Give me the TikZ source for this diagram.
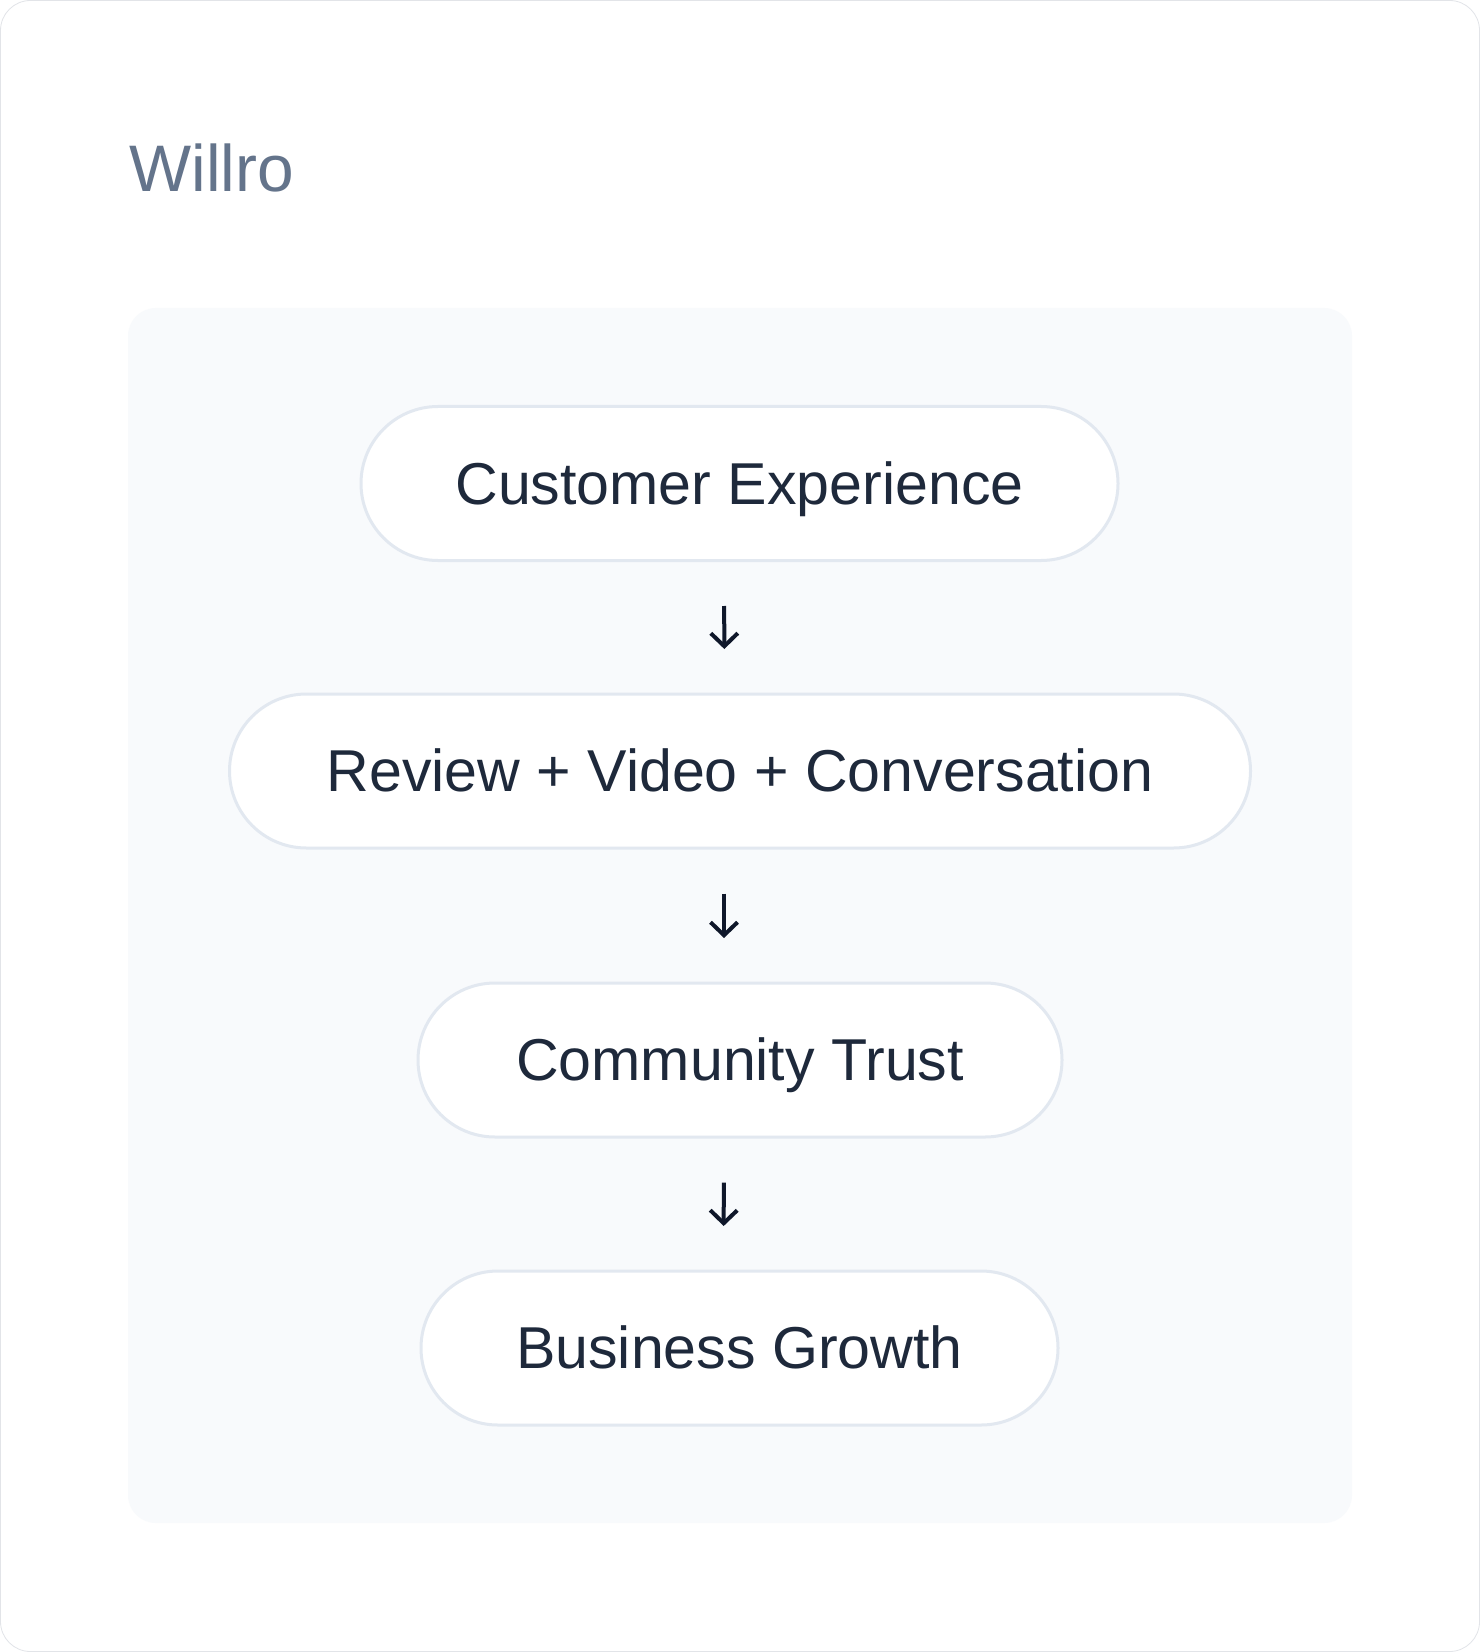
\documentclass[tikz,border=0pt]{standalone}
\usepackage{fontspec}
\setmainfont{Liberation Sans}
\usetikzlibrary{arrows.meta}
\definecolor{framegray}{HTML}{E2E4E8}
\definecolor{panelbg}{HTML}{F8FAFC}
\definecolor{pillborder}{HTML}{E2E8F0}
\definecolor{ink}{HTML}{1E293B}
\definecolor{arrowink}{HTML}{0F172A}
\definecolor{titlegray}{HTML}{64748B}
\begin{document}
\begin{tikzpicture}[x=0.5pt,y=-0.5pt,
  pill/.style={draw=pillborder, line width=1.5pt, fill=white, rounded corners=38.5pt,
    minimum height=77pt, inner sep=0pt, outer sep=0pt, text=ink,
    font=\fontsize{29.55pt}{35pt}\selectfont, text height=20.6pt, text depth=0pt},
  flow/.style={draw=arrowink, line width=2pt,
    -{Straight Barb[length=6.5pt,width=13.5pt]}}]
\useasboundingbox (0,0) rectangle (1480,1652);
\fill[white, rounded corners=15pt] (0,0) rectangle (1480,1652);
\draw[framegray, line width=0.4pt, rounded corners=15pt] (0.5,0.5) rectangle (1479.5,1651.5);
\fill[panelbg, rounded corners=14pt] (128,308) rectangle (1352,1523);
\node[anchor=base west, inner sep=0pt, text=titlegray, font=\fontsize{32.9pt}{40pt}\selectfont] (title) at (129,192) {Willro};
\node[pill, minimum width=378.5pt] (p1) at (739.5,483.5) {Customer Experience};
\node[pill, minimum width=510.5pt] (p2) at (740,771) {Review + Video + Conversation};
\node[pill, minimum width=322pt] (p3) at (740,1060) {Community Trust};
\node[pill, minimum width=318.5pt] (p4) at (739.5,1348) {Business Growth};
\draw[flow, shorten <=22.75pt, shorten >=22.5pt] ([xshift=-7.75pt]p1.south) -- ([xshift=-7.75pt]p2.north);
\draw[flow, shorten <=22.75pt, shorten >=22.5pt] ([xshift=-8pt]p2.south) -- ([xshift=-8pt]p3.north);
\draw[flow, shorten <=22.75pt, shorten >=22.5pt] ([xshift=-8pt]p3.south) -- ([xshift=-8pt]p4.north);
\end{tikzpicture}
\end{document}
